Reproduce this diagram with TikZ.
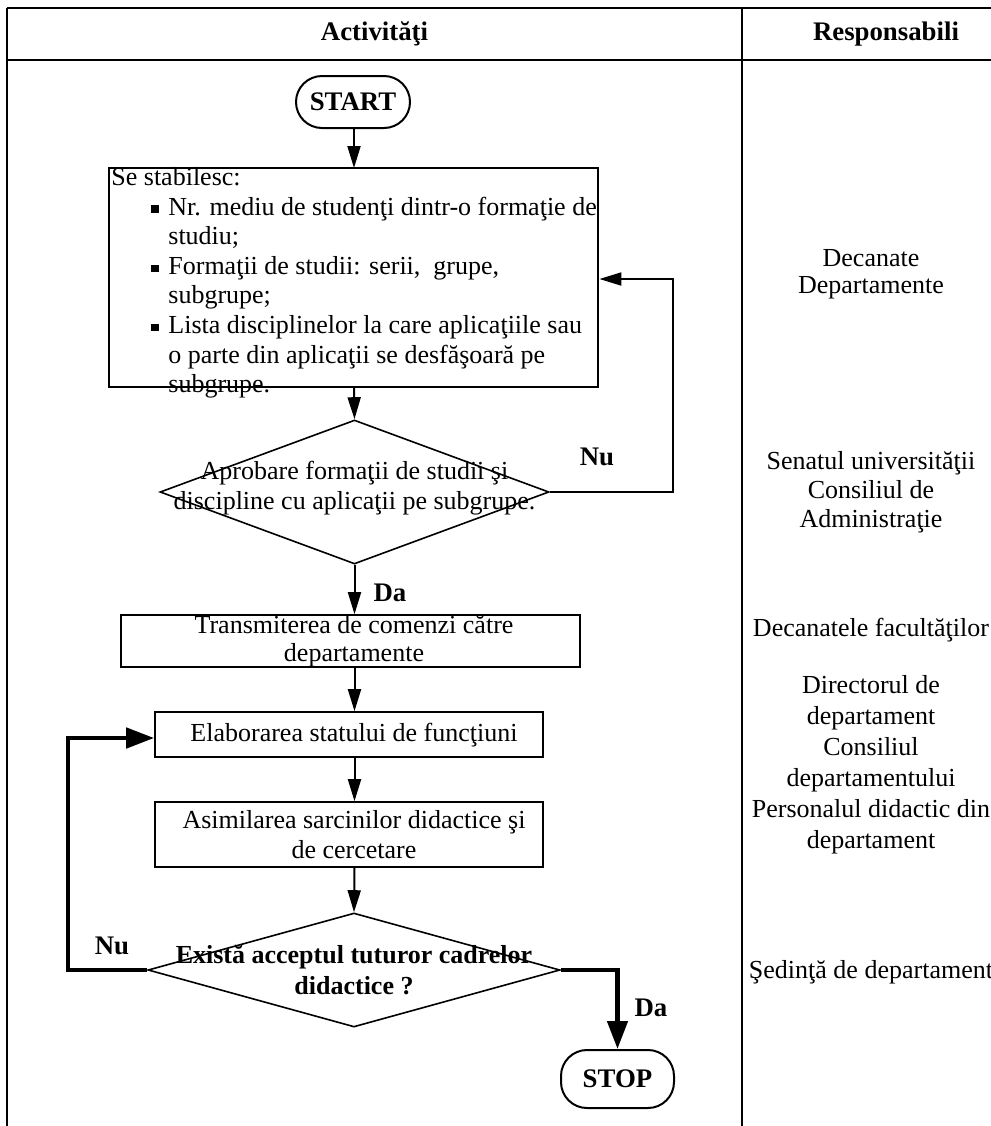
\documentclass[tikz,border=0pt]{standalone}
\usepackage{fontspec}
\setmainfont{Liberation Serif}
\usetikzlibrary{arrows.meta,shapes.geometric,calc}
\newcommand{\myblt}{\hspace*{20pt}\rule[1.2pt]{3.6pt}{3.6pt}\hspace*{4.9pt}}
\newcommand{\myind}{\hspace*{28.5pt}}
\begin{document}
\begin{tikzpicture}[x=0.5pt,y=-0.5pt,
  every node/.style={font=\fontsize{13}{14.8}\selectfont},
  tbl/.style={line width=1pt},
  procbox/.style={draw, rectangle, line width=0.8pt, inner sep=0pt},
  bigbox/.style={draw, rectangle, line width=1.4pt, inner sep=0pt},
  decision/.style={draw, diamond, line width=0.8pt, inner sep=0pt},
  term/.style={draw, rectangle, rounded corners=13pt, line width=1pt, inner sep=0pt, font=\fontsize{13.4}{15}\selectfont\bfseries},
  arr/.style={-{Triangle[length=11pt,width=6.5pt]}, line width=1pt},
  thickarr/.style={-{Triangle[length=14pt,width=10pt]}, line width=2.3pt},
  lbl/.style={font=\fontsize{13.4}{15}\selectfont\bfseries},
  hdr/.style={font=\fontsize{13.4}{15}\selectfont\bfseries},
  btext/.style={align=center, inner sep=0pt},
  rtext/.style={align=center, inner sep=0pt}
]
\useasboundingbox (0,0) rectangle (991,1126);
\clip (0,0) rectangle (991,1126);
\fill[white] (0,0) rectangle (991,1126);

% table
\draw[tbl] (7,8) -- (1100,8);
\draw[tbl] (7,60) -- (1100,60);
\draw[tbl] (7,8) -- (7,1200);
\draw[tbl] (742,8) -- (742,1200);
\node[hdr] (h1) at (374.5,34) {Activităţi};
\node[hdr] (h2) at (886,34) {Responsabili};

% flow
\node[term, minimum width=57pt, minimum height=26pt] (start) at (353,102) {START};

\node[bigbox, minimum width=244.5pt, minimum height=109.5pt] (b1) at (353.5,277.5) {};
\node[anchor=north west, align=left, inner sep=0pt] (b1t) at (111,167) {Se stabilesc:\\
\myblt Nr. mediu de studenţi dintr-o formaţie de\\
\myind studiu;\\
\myblt Formaţii de studii: serii,\ \ grupe,\\
\myind subgrupe;\\
\myblt Lista disciplinelor la care aplicaţiile sau\\
\myind o parte din aplicaţii se desfăşoară pe\\
\myind subgrupe.};

\node[decision, minimum width=194.5pt, minimum height=72pt] (d1) at (354.5,492) {};
\node[btext, font=\fontsize{13}{15}\selectfont] (d1t) at (354.5,488) {Aprobare formaţii de studii şi\\discipline cu aplicaţii pe subgrupe.};

\node[procbox, minimum width=229.5pt, minimum height=26pt] (b2) at (350.5,641) {};
\node[btext, font=\fontsize{13}{14}\selectfont] (b2t) at (354,641) {Transmiterea de comenzi către\\departamente};
\node[procbox, minimum width=194pt, minimum height=22.5pt] (b3) at (349,734.5) {};
\node[btext] (b3t) at (354,735) {Elaborarea statului de funcţiuni};
\node[procbox, minimum width=194pt, minimum height=32.5pt] (b4) at (349,834.5) {};
\node[btext, font=\fontsize{13}{15}\selectfont] (b4t) at (354,834.5) {Asimilarea sarcinilor didactice şi\\de cercetare};

\node[decision, minimum width=206pt, minimum height=57pt] (d2) at (354,970) {};
\node[btext, font=\fontsize{13}{15.5}\selectfont\bfseries] (d2t) at (354,970) {Există acceptul tuturor cadrelor\\didactice ?};

\node[term, minimum width=56.5pt, minimum height=29pt] (stop) at (617.5,1079) {STOP};

% connectors
\draw[arr] (start.south -| 354,0) -- (354,168);
\draw[arr] (354,387) -- (d1.north);
\draw[arr] (d1.south) -- (d1.south |- b2.north);
\draw[arr] (d1.south |- b2.south) -- (d1.south |- b3.north);
\draw[arr] (d1.south |- b3.south) -- (d1.south |- b4.north);
\draw[arr] (d1.south |- b4.south) -- (d2.north);

\coordinate (c1) at (673,279);
\draw[arr] (d1.east) -| (c1) -- (c1 -| b1.east);
\coordinate (c2) at (68,738);
\draw[thickarr] (d2.west) -| (c2) -- (c2 -| b3.west);
\draw[thickarr] (d2.east) -| (stop.north);

\node[lbl] (nu1) at (597,457) {Nu};
\node[lbl] (da1) at (390,593) {Da};
\node[lbl] (nu2) at (112,946) {Nu};
\node[lbl] (da2) at (651,1008) {Da};

% responsabili
\node[rtext, font=\fontsize{13}{13.5}\selectfont] (r1) at (871,274) {Decanate\\Departamente};
\node[rtext, font=\fontsize{13}{14.6}\selectfont] (r2) at (871,492) {Senatul universităţii\\Consiliul de\\Administraţie};
\node[rtext] (r3) at (871,630) {Decanatele facultăţilor};
\node[rtext, font=\fontsize{13}{15.5}\selectfont] (r4) at (871,765) {Directorul de\\departament\\Consiliul\\departamentului\\Personalul didactic din\\departament};
\node[rtext] (r5) at (871,972) {Şedinţă de departament};
\end{tikzpicture}
\end{document}
